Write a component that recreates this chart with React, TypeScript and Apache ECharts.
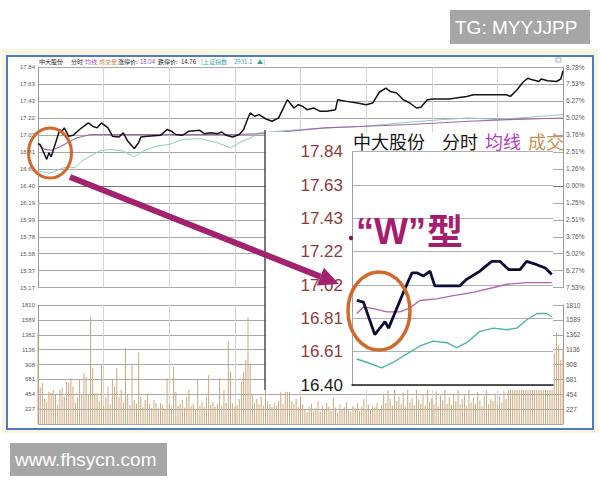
import React, { useEffect, useRef } from "react";
import * as echarts from "echarts";

// ---------- tick labels ----------
const PRICE_LABELS = ["15.17", "15.37", "15.58", "15.78", "15.99", "16.19", "16.40", "16.61", "16.81", "17.02", "17.22", "17.43", "17.63", "17.84"];
const PCT_LABELS = ["7.53%", "6.27%", "5.02%", "3.76%", "2.51%", "1.25%", "0.00%", "1.26%", "2.51%", "3.76%", "5.02%", "6.27%", "7.53%", "8.78%"];
const VOL_LABELS = ["", "227", "454", "681", "908", "1136", "1362", "1589", "1810"];
const INSET_LABELS = ["16.40", "16.61", "16.81", "17.02", "17.22", "17.43", "17.63", "17.84"];

const PRICE_MIN = 15.17;
const PRICE_STEP = 0.205;
const PREV_CLOSE = 16.4;
const VOL_STEP = 227;

// ---------- main intraday chart (minute, price) ----------
const MAIN_PRICE: [number, number][] = [
  [0, 16.91], [1, 16.9], [4, 16.72], [5, 16.8], [6, 16.75], [10, 17.08], [11, 17.06], [12, 17.1], [14, 17.0], [16, 17.01],
  [19, 17.08], [23, 17.16], [25, 17.12], [27, 17.1], [29, 17.16], [32, 17.1], [34, 17.0], [37, 16.99], [39, 17.04], [41, 16.94],
  [44, 16.85], [46, 16.92], [47, 16.99], [50, 17.0], [56, 17.01], [59, 17.08], [61, 17.06], [63, 17.02], [66, 17.01], [69, 17.06],
  [74, 17.07], [76, 17.03], [79, 17.04], [82, 17.03], [84, 17.05], [86, 17.01], [89, 16.99], [92, 17.02], [94, 17.08], [96, 17.22],
  [97, 17.28], [99, 17.24], [101, 17.26], [104, 17.21], [107, 17.18], [110, 17.22], [114, 17.44], [117, 17.34], [119, 17.38], [121, 17.36],
  [123, 17.32], [126, 17.34], [129, 17.3], [132, 17.3], [136, 17.32], [137, 17.44], [141, 17.42], [146, 17.4], [150, 17.38], [153, 17.4],
  [156, 17.53], [159, 17.58], [161, 17.54], [164, 17.52], [167, 17.44], [170, 17.4], [173, 17.34], [175, 17.35], [178, 17.44], [181, 17.45],
  [188, 17.45], [191, 17.46], [196, 17.48], [199, 17.5], [211, 17.5], [214, 17.5], [216, 17.48], [219, 17.56], [222, 17.66], [224, 17.7],
  [226, 17.68], [229, 17.66], [230, 17.69], [233, 17.67], [237, 17.66], [239, 17.69], [240, 17.79],
];
const MAIN_AVG: [number, number][] = [
  [0, 16.9], [3, 16.84], [6, 16.83], [10, 16.87], [14, 16.93], [18, 16.98], [24, 17.02], [40, 17.02], [60, 17.02], [90, 17.02],
  [104, 17.03], [115, 17.06], [131, 17.1], [150, 17.12], [170, 17.14], [197, 17.18], [215, 17.2], [240, 17.22],
];
const MAIN_INDEX: [number, number][] = [
  [0, 16.58], [5, 16.55], [10, 16.6], [13, 16.63], [17, 16.62], [20, 16.7], [24, 16.76], [28, 16.82], [33, 16.84], [39, 16.82],
  [44, 16.75], [48, 16.82], [54, 16.88], [60, 16.9], [66, 16.96], [74, 16.97], [82, 16.92], [88, 16.86], [92, 16.92], [98, 16.99],
  [101, 17.04], [110, 17.06], [120, 17.08], [132, 17.1], [150, 17.12], [170, 17.17], [185, 17.2], [197, 17.22], [210, 17.2], [225, 17.23],
  [240, 17.26],
];
const VOLUME: number[] = [
  1390, 560, 625, 380, 340, 493, 473, 519, 442, 300,
  519, 545, 420, 646, 625, 697, 570, 330, 407, 671,
  450, 773, 722, 460, 1637, 850, 468, 468, 350, 900,
  280, 407, 570, 300, 671, 570, 850, 407, 519, 330,
  1155, 442, 290, 900, 366, 310, 1088, 417, 260, 366,
  442, 300, 250, 366, 320, 240, 320, 295, 220, 697,
  306, 260, 875, 493, 280, 306, 366, 250, 417, 519,
  270, 306, 230, 671, 280, 340, 260, 417, 748, 290,
  340, 260, 300, 697, 280, 519, 320, 1256, 798, 320,
  260, 295, 380, 646, 798, 977, 1637, 900, 450, 320,
  380, 300, 417, 280, 519, 350, 306, 260, 320, 280,
  350, 493, 300, 493, 493, 493, 350, 306, 380, 260,
  420, 300, 220, 180, 260, 310, 200, 240, 350, 190,
  280, 230, 330, 270, 200, 400, 250, 180, 300, 220,
  260, 340, 210, 190, 280, 240, 320, 200, 260, 380,
  230, 300, 210, 270, 250, 330, 220, 290, 450, 320,
  520, 380, 280, 600, 350, 420, 300, 480, 260, 540,
  330, 400, 290, 560, 370, 310, 450, 280, 620, 340,
  390, 300, 500, 270, 430, 360, 580, 310, 410, 290,
  470, 350, 520, 300, 380, 440, 280, 560, 330, 400,
  310, 490, 360, 270, 430, 510, 300, 380, 350, 460,
  290, 420, 330, 500, 380, 620, 700, 560, 800, 650,
  900, 720, 680, 850, 760, 950, 700, 820, 880, 760,
  980, 900, 850, 1050, 920, 780, 1083, 1390, 1200, 980,
  1150,
];

// ---------- zoomed inset (minute, price) ----------
const INSET_PRICE: [number, number][] = [
  [0.8, 16.92], [1.9, 16.91], [3.8, 16.71], [5.5, 16.79], [6.1, 16.75], [8.8, 16.99], [10.0, 17.09], [10.8, 17.09], [11.9, 17.07], [13.0, 17.1],
  [13.8, 17.01], [15.0, 17.01], [15.8, 17.01], [18.0, 17.01], [19.1, 17.05], [21.3, 17.1], [23.3, 17.16], [24.7, 17.16], [26.1, 17.11], [28.0, 17.11],
  [29.1, 17.16], [30.8, 17.14], [32.2, 17.12], [33.3, 17.08],
];
const INSET_AVG: [number, number][] = [
  [0.8, 16.84], [1.9, 16.88], [3.6, 16.87], [5.8, 16.85], [8.0, 16.85], [9.7, 16.875], [11.3, 16.92], [14.1, 16.93], [16.9, 16.95], [20.2, 16.97],
  [23.6, 17.0], [25.8, 17.02], [29.1, 17.03], [33.3, 17.03],
];
const INSET_INDEX: [number, number][] = [
  [0.8, 16.56], [2.45, 16.54], [4.95, 16.505], [6.9, 16.54], [9.1, 16.59], [11.3, 16.64], [13.55, 16.67], [15.8, 16.66], [17.45, 16.63], [19.1, 16.66],
  [21.3, 16.73], [23.55, 16.75], [25.8, 16.74], [27.45, 16.75], [29.1, 16.8], [30.8, 16.84], [32.45, 16.84], [33.3, 16.82],
];
const INSET_MARK = 30.3;

const LAT = '"Liberation Sans", "Noto Sans CJK SC", sans-serif';
const CJK = '"Noto Sans CJK SC", sans-serif';

const priceLabel = (v: number) => PRICE_LABELS[Math.round((v - PRICE_MIN) / PRICE_STEP)] ?? "";
const pctLabel = (v: number) => PCT_LABELS[Math.round((v - PRICE_MIN) / PRICE_STEP)] ?? "";
const volLabel = (v: number) => VOL_LABELS[Math.round(v / VOL_STEP)] ?? "";
const insetLabel = (v: number) => INSET_LABELS[Math.round((v - PREV_CLOSE) / PRICE_STEP)] ?? "";

function buildOption() {
  const hidden = { show: false };
  const mainX = (gridIndex: number) => ({
    gridIndex,
    type: "value",
    min: 0,
    max: 240,
    interval: 30,
    axisLine: hidden,
    axisTick: hidden,
    axisLabel: hidden,
    splitLine: { show: true, lineStyle: { color: "#d4d4d4", width: 1 } },
  });
  const smallLabel = { fontSize: 6, color: "#5a5a5a", fontFamily: LAT };
  const header = [
    { x: 39, text: "中大股份", color: "#222" },
    { x: 71, text: "分时", color: "#222" },
    { x: 85, text: "均线", color: "#9a48c0" },
    { x: 99, text: "成交量", color: "#d08a48" },
    { x: 118, text: "涨停价:", color: "#222" },
    { x: 140, text: "18.04", color: "#9a48c0" },
    { x: 158, text: "跌停价:", color: "#222" },
    { x: 181, text: "14.76", color: "#222" },
    { x: 201, text: "[上证指数", color: "#3a9fa0" },
    { x: 234, text: "2931.1", color: "#3a9fa0" },
    { x: 257, text: "▲]", color: "#3a9fa0" },
  ];
  // arrow geometry
  const ax0 = 70, ay0 = 177, tipX = 339, tipY = 284;
  const dx = tipX - ax0, dy = tipY - ay0, len = Math.hypot(dx, dy);
  const ux = dx / len, uy = dy / len;
  const bx = tipX - 20 * ux, by = tipY - 20 * uy;
  const px = -uy * 9.5, py = ux * 9.5;

  return {
    animation: false,
    backgroundColor: "#ffffff",
    textStyle: { fontFamily: LAT },
    grid: [
      { left: 38, top: 67, width: 525, height: 220.7 },
      { left: 38, top: 305, width: 525, height: 119 },
      { left: 352, top: 151.7, width: 201, height: 233.3 },
    ],
    xAxis: [
      mainX(0),
      mainX(1),
      {
        gridIndex: 2,
        type: "value",
        min: 0,
        max: 33.5,
        z: 20,
        axisLine: { show: true, onZero: false, lineStyle: { color: "#222", width: 1.6 } },
        axisTick: hidden,
        axisLabel: hidden,
        splitLine: hidden,
      },
    ],
    yAxis: [
      {
        gridIndex: 0, type: "value", min: PRICE_MIN, max: PRICE_MIN + 13 * PRICE_STEP, interval: PRICE_STEP,
        axisLine: { show: true, lineStyle: { color: "#9a9a9a" } }, axisTick: hidden,
        axisLabel: { ...smallLabel, margin: 3, formatter: priceLabel },
        splitLine: { show: true, lineStyle: { color: "#a8a8a8", width: 1 } },
      },
      {
        gridIndex: 0, type: "value", position: "right", min: PRICE_MIN, max: PRICE_MIN + 13 * PRICE_STEP, interval: PRICE_STEP,
        axisLine: { show: true, lineStyle: { color: "#9a9a9a" } }, axisTick: hidden,
        axisLabel: { ...smallLabel, fontSize: 6.5, margin: 3, formatter: pctLabel },
        splitLine: hidden,
      },
      {
        gridIndex: 1, type: "value", min: 0, max: 8 * VOL_STEP, interval: VOL_STEP,
        axisLine: { show: true, lineStyle: { color: "#9a9a9a" } }, axisTick: hidden,
        axisLabel: { ...smallLabel, margin: 3, formatter: volLabel },
        splitLine: { show: true, lineStyle: { color: "#a8a8a8", width: 1 } },
      },
      {
        gridIndex: 1, type: "value", position: "right", min: 0, max: 8 * VOL_STEP, interval: VOL_STEP,
        axisLine: { show: true, lineStyle: { color: "#9a9a9a" } }, axisTick: hidden,
        axisLabel: { ...smallLabel, fontSize: 6.5, margin: 3, formatter: volLabel },
        splitLine: hidden,
      },
      {
        gridIndex: 2, type: "value", min: PREV_CLOSE, max: PREV_CLOSE + 7 * PRICE_STEP, interval: PRICE_STEP, z: 20,
        axisLine: { show: true, lineStyle: { color: "#a0a0a0", width: 1 } }, axisTick: hidden,
        axisLabel: {
          fontSize: 17, fontFamily: LAT, margin: 9, formatter: insetLabel,
          color: (v: number) => (Math.abs(v - PREV_CLOSE) < 0.01 ? "#1a1a1a" : "#8e3b3b"),
        },
        splitLine: { show: true, lineStyle: { color: "#b0b0b0", width: 1.2 } },
      },
    ],
    series: [
      {
        type: "bar", name: "成交量", xAxisIndex: 1, yAxisIndex: 2, barWidth: 1, z: 2,
        itemStyle: { color: "#cba77e" }, data: VOLUME.map((v, i) => [i, v]),
      },
      {
        type: "line", name: "指数", xAxisIndex: 0, yAxisIndex: 0, symbol: "none", z: 3,
        lineStyle: { color: "#8fc9ba", width: 1 }, data: MAIN_INDEX,
        markLine: {
          symbol: ["none", "none"], silent: true, label: hidden,
          lineStyle: { color: "#777", width: 1.2, type: "solid" }, data: [{ yAxis: PREV_CLOSE }],
        },
      },
      {
        type: "line", name: "均线", xAxisIndex: 0, yAxisIndex: 0, symbol: "none", z: 3,
        lineStyle: { color: "#9c6aa8", width: 1.1 }, data: MAIN_AVG,
      },
      {
        type: "line", name: "分时", xAxisIndex: 0, yAxisIndex: 0, symbol: "none", z: 4,
        lineStyle: { color: "#141414", width: 1.5 }, data: MAIN_PRICE,
      },
      {
        type: "line", name: "指数放大", xAxisIndex: 2, yAxisIndex: 4, symbol: "none", z: 20,
        lineStyle: { color: "#4fb5a2", width: 1.4 }, data: INSET_INDEX,
        markLine: {
          symbol: ["none", "none"], silent: true, label: hidden,
          lineStyle: { color: "#666", width: 1, type: "dotted" }, data: [{ xAxis: INSET_MARK }],
        },
      },
      {
        type: "line", name: "均线放大", xAxisIndex: 2, yAxisIndex: 4, symbol: "none", z: 20,
        lineStyle: { color: "#b064b4", width: 1.4 }, data: INSET_AVG,
      },
      {
        type: "line", name: "分时放大", xAxisIndex: 2, yAxisIndex: 4, symbol: "none", z: 21,
        lineStyle: { color: "#0c0c38", width: 2.8 }, data: INSET_PRICE,
      },
    ],
    graphic: {
      elements: [
        { type: "rect", z: -5, shape: { x: 2, y: 49, width: 596, height: 384 }, style: { fill: "#f7f5de" } },
        { type: "rect", z: -4, shape: { x: 7, y: 56, width: 586, height: 373 }, style: { fill: "#ffffff", stroke: "#4f79c2", lineWidth: 2 } },
        ...header.map((h) => ({
          type: "text", z: 5, x: h.x, y: 61,
          style: { text: h.text, fill: h.color, font: `6px ${CJK}`, verticalAlign: "middle" },
        })),
        { type: "rect", z: 5, shape: { x: 556, y: 58, width: 5, height: 4 }, style: { fill: "none", stroke: "#8a9ab0", lineWidth: 0.8 } },
        // inset panel
        { type: "rect", z: 10, shape: { x: 265, y: 132, width: 288, height: 258 }, style: { fill: "#ffffff" } },
        { type: "line", z: 11, shape: { x1: 265, y1: 130, x2: 265, y2: 390 }, style: { stroke: "#333", lineWidth: 1.3 } },
        { type: "text", z: 25, x: 353, y: 141, style: { text: "中大股份", fill: "#151515", font: `18px ${CJK}`, verticalAlign: "middle" } },
        { type: "text", z: 25, x: 442, y: 141, style: { text: "分时", fill: "#151515", font: `18px ${CJK}`, verticalAlign: "middle" } },
        { type: "text", z: 25, x: 485, y: 141, style: { text: "均线", fill: "#b43cc0", font: `18px ${CJK}`, verticalAlign: "middle" } },
        { type: "text", z: 25, x: 528, y: 141, style: { text: "成交", fill: "#c8904c", font: `18px ${CJK}`, verticalAlign: "middle" } },
        { type: "text", z: 25, x: 356, y: 231, style: { text: "“W”", fill: "#a51e6e", font: `bold 36px "Liberation Sans", sans-serif`, verticalAlign: "middle" } },
        { type: "text", z: 25, x: 427, y: 229, style: { text: "型", fill: "#a51e6e", font: `bold 36px ${CJK}`, verticalAlign: "middle" } },
        { type: "circle", z: 25, shape: { cx: 351, cy: 238, r: 2.2 }, style: { fill: "#7a1a50" } },
        // annotations
        { type: "ellipse", z: 30, shape: { cx: 50, cy: 153, rx: 21.5, ry: 25 }, style: { fill: "none", stroke: "#d2692c", lineWidth: 3 } },
        { type: "ellipse", z: 30, shape: { cx: 379, cy: 311, rx: 31, ry: 39 }, style: { fill: "none", stroke: "#d2692c", lineWidth: 3.5 } },
        { type: "line", z: 30, shape: { x1: ax0, y1: ay0, x2: bx, y2: by }, style: { stroke: "#a3226e", lineWidth: 6 } },
        {
          type: "polygon", z: 30,
          shape: { points: [[tipX, tipY], [bx + px, by + py], [bx - px, by - py]] },
          style: { fill: "#a3226e" },
        },
        // watermarks
        { type: "rect", z: 40, shape: { x: 450, y: 10, width: 140, height: 34 }, style: { fill: "#a6a6a6" } },
        { type: "text", z: 41, x: 455, y: 27, style: { text: "TG: MYYJJPP", fill: "#ffffff", font: `19px "Liberation Sans", sans-serif`, verticalAlign: "middle" } },
        { type: "rect", z: 40, shape: { x: 10, y: 443, width: 157, height: 33 }, style: { fill: "#a6a6a6" } },
        { type: "text", z: 41, x: 15, y: 459, style: { text: "www.fhsycn.com", fill: "#ffffff", font: `19px "Liberation Sans", sans-serif`, verticalAlign: "middle" } },
      ],
    },
  };
}

export default function App() {
  const ref = useRef<HTMLDivElement>(null);
  useEffect(() => {
    if (!ref.current) return;
    const chart = echarts.init(ref.current, null, { renderer: "svg" });
    chart.setOption(buildOption() as any);
    return () => chart.dispose();
  }, []);
  return <div ref={ref} style={{ position: "fixed", left: 0, top: 0, width: 600, height: 480 }} />;
}
